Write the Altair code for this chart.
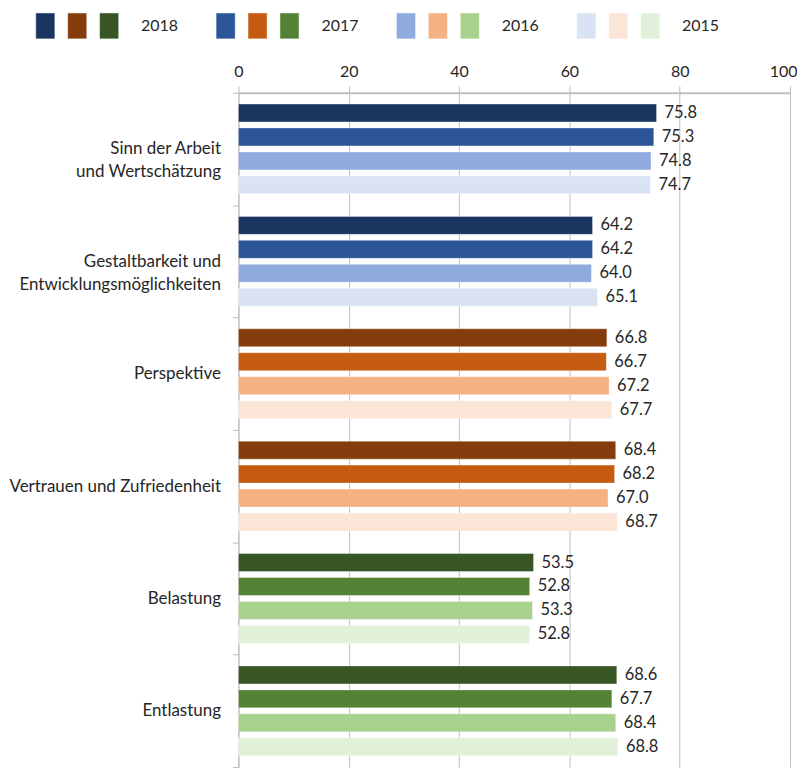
import altair as alt
import pandas as pd

NB = "\u00a0"
# multi-line labels: "|" separates lines; trailing no-break spaces centre the shorter line
categories = [
    "Sinn der Arbeit" + NB * 4 + "|und Wertschätzung",
    "Gestaltbarkeit und" + NB * 7 + "|Entwicklungsmöglichkeiten",
    "Perspektive",
    "Vertrauen und Zufriedenheit",
    "Belastung",
    "Entlastung",
]
years = ["2018", "2017", "2016", "2015"]

sinn = [75.8, 75.3, 74.8, 74.7]
gestalt = [64.2, 64.2, 64.0, 65.1]
perspektive = [66.8, 66.7, 67.2, 67.7]
vertrauen = [68.4, 68.2, 67.0, 68.7]
belastung = [53.5, 52.8, 53.3, 52.8]
entlastung = [68.6, 67.7, 68.4, 68.8]
series = [sinn, gestalt, perspektive, vertrauen, belastung, entlastung]

blues = ["#1B3561", "#2B5597", "#8FAADC", "#DAE3F3"]
oranges = ["#843C0C", "#C55A11", "#F4B183", "#FBE5D6"]
greens = ["#375623", "#548235", "#A9D18E", "#E2F0D9"]
cat_palette = [blues, blues, oranges, oranges, greens, greens]

FONT = "Lato"
TXT = "#262626"

rows = []
for ci, cat in enumerate(categories):
    for yi, yr in enumerate(years):
        rows.append({"cat": cat, "year": yr, "value": series[ci][yi],
                     "color": cat_palette[ci][yi], "label": f"{series[ci][yi]:.1f}"})
df = pd.DataFrame(rows)

PW = 553   # plot width
PH = 676   # plot height

# legend data in swatch-step units (32 px), origin at the plot's left edge
leg_rows = []
leg_text = []
for yi, yr in enumerate(years):
    start = -6.35 + yi * 5.65
    for gi, pal in enumerate([blues, oranges, greens]):
        x0 = start + gi
        leg_rows.append({"x": x0, "x2": x0 + 0.6, "y": 0, "y2": 1, "color": pal[yi]})
    leg_text.append({"x": start + 3.3, "y": 0.5, "text": yr})
leg_df = pd.DataFrame(leg_rows)
leg_txt_df = pd.DataFrame(leg_text)

xleg = alt.Scale(domain=[0, PW / 32])
yleg = alt.Scale(domain=[0, 1])
legend_sw = alt.Chart(leg_df).mark_rect(stroke="#ffffff", strokeWidth=0.5).encode(
    x=alt.X("x:Q", scale=xleg, axis=None),
    x2="x2:Q",
    y=alt.Y("y:Q", scale=yleg, axis=None),
    y2="y2:Q",
    color=alt.Color("color:N", scale=None),
)
legend_tx = alt.Chart(leg_txt_df).mark_text(align="left", baseline="middle", font=FONT,
                                            fontSize=16, color=TXT).encode(
    x=alt.X("x:Q", scale=xleg, axis=None),
    y=alt.Y("y:Q", scale=yleg, axis=None),
    text="text:N",
)
legend = alt.layer(legend_sw, legend_tx).properties(width=PW, height=26)

yenc = alt.Y(
    "cat:N",
    sort=categories,
    scale=alt.Scale(paddingInner=0, paddingOuter=0),
    axis=alt.Axis(
        title=None,
        labelExpr="split(datum.label, '|')",
        labelFont=FONT,
        labelFontSize=17,
        labelColor=TXT,
        labelPadding=12,
        labelLimit=400,
        labelLineHeight=23,
        tickBand="extent",
        tickSize=6,
        tickColor="#BFBFBF",
        domainColor="#BFBFBF",
        domainWidth=1,
        grid=False,
    ),
)
yoff = alt.YOffset("year:N", sort=years,
                   scale=alt.Scale(paddingInner=0.25, paddingOuter=0.47))
xenc = alt.X(
    "value:Q",
    scale=alt.Scale(domain=[0, 100], nice=False),
    axis=alt.Axis(
        orient="top",
        title=None,
        values=[0, 20, 40, 60, 80, 100],
        grid=True,
        gridColor="#BFBFBF",
        tickColor="#BFBFBF",
        tickSize=7,
        domainColor="#BFBFBF",
        domainWidth=2,
        labelFont=FONT,
        labelFontSize=16,
        labelColor=TXT,
        labelPadding=6,
        labelAlign=alt.condition("datum.value == 100", alt.value("right"), alt.value("center")),
        labelOffset=alt.condition("datum.value == 100", alt.value(7), alt.value(0)),
    ),
)

bars = alt.Chart(df).mark_bar(stroke="#ffffff", strokeWidth=0.6, strokeOpacity=0.6).encode(
    x=xenc,
    y=yenc,
    yOffset=yoff,
    color=alt.Color("color:N", scale=None),
)
labels = alt.Chart(df).mark_text(align="left", baseline="middle", dx=8, font=FONT,
                                 fontSize=16.5, color=TXT).encode(
    x=alt.X("value:Q"),
    y=alt.Y("cat:N", sort=categories),
    yOffset=yoff,
    text="label:N",
)
main = alt.layer(bars, labels).properties(width=PW, height=PH)

chart = alt.vconcat(legend, main, spacing=24).configure(
    padding={"left": 0, "top": 3, "right": 0, "bottom": 0}
).configure_view(stroke=None)

chart.save("out.html", embed_options={"renderer": "svg", "actions": False})
